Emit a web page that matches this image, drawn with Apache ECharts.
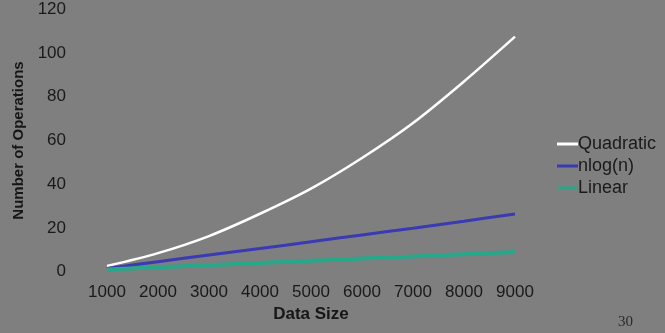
<!DOCTYPE html>
<html><head><meta charset="utf-8">
<script src="https://cdn.jsdelivr.net/npm/echarts@6/dist/echarts.min.js"></script>
<style>html,body{margin:0;padding:0;background:#7f7f7f}#c{width:665px;height:333px}</style>
</head><body><div id="c"></div>
<script>
var categories = ['1000','2000','3000','4000','5000','6000','7000','8000','9000'];
var quadratic = [2.6, 8.5, 16.3, 26.5, 38, 52, 68, 87, 107.5];
var nlogn = [1.5, 4.6, 7.6, 10.6, 13.7, 16.8, 19.9, 23.1, 26.4];
var linear = [1, 2, 3, 4, 5, 6, 7, 8, 9];
var yTicks = [0, 20, 40, 60, 80, 100, 120];
var pageNumber = '30';

var chart = echarts.init(document.getElementById('c'));
var lbl = {color:'#1a1a1a', fontFamily:'Liberation Sans, Arial, sans-serif', fontSize:17};
chart.setOption({
  backgroundColor:'#7f7f7f',
  animation:false,
  grid:{left:107, right:150, top:9.3, bottom:61.3},
  legend:{
    orient:'vertical', left:552, top:130, itemWidth:21, itemHeight:3, itemGap:4,
    icon:'rect',
    textStyle:{color:'#1a1a1a', fontFamily:'Liberation Sans, Arial, sans-serif', fontSize:18, padding:[0,0,0,-5]},
    data:['Quadratic','nlog(n)','Linear']
  },
  xAxis:{
    type:'category', data:categories, boundaryGap:false,
    axisLine:{show:false}, axisTick:{show:false},
    axisLabel:Object.assign({margin:12}, lbl),
    name:'Data Size', nameLocation:'middle', nameGap:25,
    nameTextStyle:{color:'#161616', fontFamily:'Liberation Sans, Arial, sans-serif', fontSize:17, fontWeight:'bold'}
  },
  yAxis:{
    type:'value', min:yTicks[0], max:yTicks[yTicks.length-1], interval:20,
    axisLine:{show:false}, axisTick:{show:false}, splitLine:{show:false},
    axisLabel:Object.assign({margin:41}, lbl),
    name:'Number of Operations', nameLocation:'middle', nameGap:70,
    nameTextStyle:{color:'#161616', fontFamily:'Liberation Sans, Arial, sans-serif', fontSize:15, fontWeight:'bold'}
  },
  series:[
    {name:'Quadratic', type:'line', data:quadratic, smooth:0.3, symbol:'none', color:'#ffffff', lineStyle:{width:2.5,color:'#ffffff'}},
    {name:'nlog(n)', type:'line', data:nlogn, smooth:0.3, symbol:'none', color:'#3a3ab4', lineStyle:{width:3,color:'#3a3ab4'}},
    {name:'Linear', type:'line', data:linear, smooth:0.3, symbol:'none', color:'#27a88a', lineStyle:{width:4,color:'#27a88a'}}
  ],
  graphic:[{type:'text', left:618, top:315, style:{text:pageNumber, fill:'#2a2a2a', font:'15px "Liberation Serif", serif'}}]
});
</script></body></html>
